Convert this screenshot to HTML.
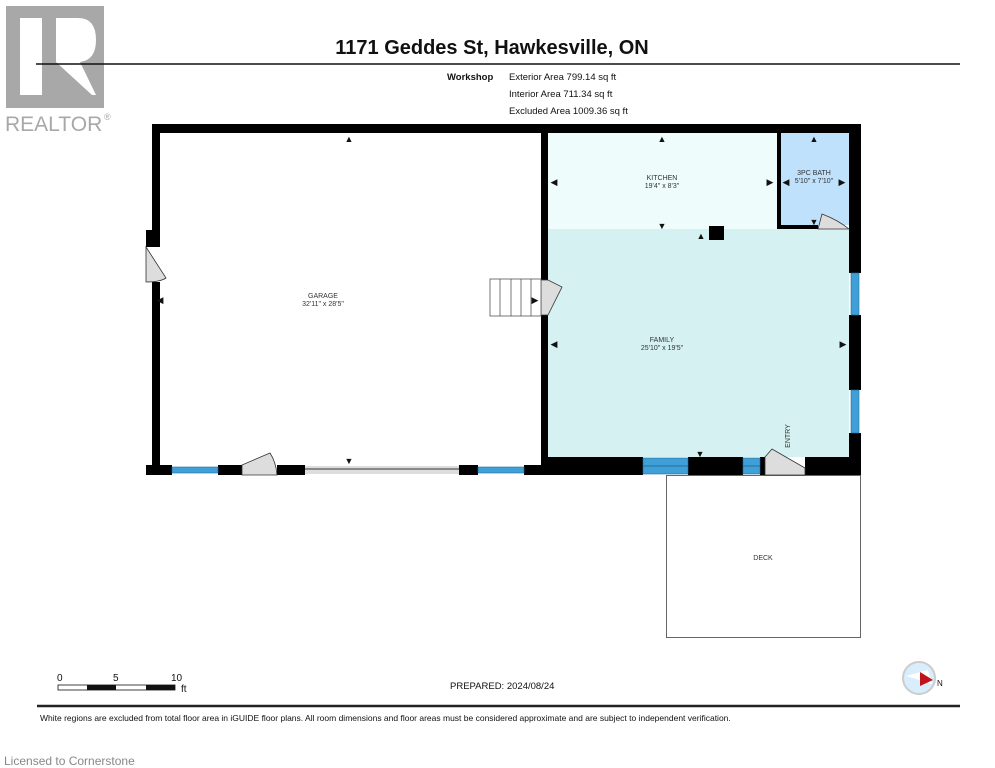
<!DOCTYPE html>
<html><head><meta charset="utf-8"><style>
body{margin:0;background:#fff;width:995px;height:768px;overflow:hidden}
svg{display:block}
text{font-family:"Liberation Sans",sans-serif}
</style></head><body>
<svg width="995" height="768" viewBox="0 0 995 768">
<rect width="995" height="768" fill="#fff"/>
<!-- realtor logo -->
<rect x="6" y="6" width="98" height="102" fill="#a8a8a8"/>
<rect x="20" y="18" width="22" height="77" fill="#fff"/>
<path d="M56 18 H78 Q96 18 96 40 Q96 60 80 62 L96 95 H56 Z" fill="#fff"/>
<path d="M56 62 L92 95 H56 Z" fill="#a8a8a8"/>
<text x="5" y="131" font-size="21" fill="#a8a8a8">REALTOR</text>
<text x="104" y="120" font-size="9" fill="#a8a8a8">®</text>
<!-- header -->
<line x1="36" y1="64" x2="960" y2="64" stroke="#111" stroke-width="1.5"/>
<text x="492" y="54" font-size="20" font-weight="bold" text-anchor="middle" fill="#111">1171 Geddes St, Hawkesville, ON</text>
<text x="447" y="80" font-size="9.5" font-weight="bold" fill="#111">Workshop</text>
<text x="509" y="80" font-size="9.5" fill="#111">Exterior Area 799.14 sq ft</text>
<text x="509" y="97" font-size="9.5" fill="#111">Interior Area 711.34 sq ft</text>
<text x="509" y="114" font-size="9.5" fill="#111">Excluded Area 1009.36 sq ft</text>
<!-- fills -->
<rect x="548" y="133" width="229" height="96" fill="#eefcfc"/>
<rect x="548" y="229" width="301" height="228" fill="#d6f1f1"/>
<rect x="781" y="133" width="68" height="92" fill="#bfe1fb"/>
<!-- deck -->
<rect x="666.5" y="475.5" width="194" height="162" fill="none" stroke="#666" stroke-width="1"/>
<text x="763" y="560" font-size="7" text-anchor="middle" fill="#333">DECK</text>
<!-- walls -->
<g fill="#000">
<rect x="152" y="124" width="709" height="9"/>
<rect x="152" y="124" width="8" height="106"/>
<rect x="146" y="230" width="14" height="17"/>
<rect x="152" y="282" width="8" height="193"/>
<rect x="146" y="465" width="26" height="10"/>
<rect x="541" y="124" width="7" height="156"/>
<rect x="541" y="315" width="7" height="160"/>
<rect x="849" y="124" width="12" height="149"/>
<rect x="849" y="315" width="12" height="75"/>
<rect x="849" y="433" width="12" height="42"/>
<rect x="777" y="133" width="4" height="96"/>
<rect x="777" y="225" width="41" height="4"/>
<rect x="218" y="465" width="24" height="10"/>
<rect x="277" y="465" width="28" height="10"/>
<rect x="459" y="465" width="19" height="10"/>
<rect x="524" y="465" width="24" height="10"/>
<rect x="548" y="457" width="95" height="18"/>
<rect x="688" y="457" width="55" height="18"/>
<rect x="760" y="457" width="5" height="18"/>
<rect x="805" y="457" width="56" height="18"/>
<rect x="709" y="226" width="15" height="14"/>
</g>
<!-- windows -->
<g fill="#3f9fd6" stroke="#1f6f9f" stroke-width="0.6">
<rect x="172" y="467" width="46" height="6"/>
<rect x="478" y="467" width="46" height="6"/>
<rect x="643" y="458" width="45" height="16"/>
<rect x="743" y="458" width="17" height="16"/>
<rect x="851" y="273" width="8" height="42"/>
<rect x="851" y="390" width="8" height="43"/>
</g>
<line x1="643" y1="466" x2="688" y2="466" stroke="#1f6f9f"/>
<line x1="743" y1="466" x2="760" y2="466" stroke="#1f6f9f"/>
<!-- garage door -->
<rect x="305" y="466" width="154" height="8" fill="#ddd"/>
<line x1="305" y1="469" x2="459" y2="469" stroke="#333"/>
<!-- doors -->
<g fill="#ddd" stroke="#333" stroke-width="0.8">
<path d="M242 475 V465 L270 453 Q276 462 277 475 Z"/>
<path d="M146 247 L166 278 Q160 282 146 282 Z"/>
<path d="M541 280 H548 L562 287 L548 315 H541 Z"/>
<path d="M765 475 V457 L772 449 L805 468 V475 Z"/>
<path d="M818 229 L822 214 Q838 220 849 229 Z"/>
</g>
<!-- stairs -->
<g fill="#fff" stroke="#555" stroke-width="0.8">
<rect x="490" y="279" width="51" height="37"/>
<line x1="500" y1="279" x2="500" y2="316"/><line x1="511" y1="279" x2="511" y2="316"/><line x1="521" y1="279" x2="521" y2="316"/><line x1="531" y1="279" x2="531" y2="316"/>
</g>
<!-- labels -->
<g font-size="7" text-anchor="middle" fill="#333">
<text x="323" y="298">GARAGE</text><text x="323" y="306">32'11" x 28'5"</text>
<text x="662" y="180">KITCHEN</text><text x="662" y="188">19'4" x 8'3"</text>
<text x="814" y="175">3PC BATH</text><text x="814" y="183">5'10" x 7'10"</text>
<text x="662" y="342">FAMILY</text><text x="662" y="350">25'10" x 19'5"</text>
<text x="790" y="436" transform="rotate(-90 790 436)">ENTRY</text>
</g>
<!-- arrows -->
<g fill="#111" font-size="9" text-anchor="middle">
<text x="349" y="142">▲</text><text x="349" y="464">▼</text>
<text x="160" y="303">◀</text><text x="535" y="303">▶</text>
<text x="662" y="142">▲</text><text x="662" y="229">▼</text>
<text x="701" y="239">▲</text>
<text x="554" y="185">◀</text><text x="770" y="185">▶</text>
<text x="814" y="142">▲</text><text x="814" y="225">▼</text>
<text x="786" y="185">◀</text><text x="842" y="185">▶</text>
<text x="554" y="347">◀</text><text x="843" y="347">▶</text>
<text x="700" y="457">▼</text>
</g>
<!-- scale -->
<g font-size="10" fill="#111">
<text x="57" y="681">0</text><text x="113" y="681">5</text><text x="171" y="681">10</text><text x="181" y="692">ft</text>
</g>
<rect x="58" y="685" width="117" height="5" fill="#fff" stroke="#111" stroke-width="0.8"/>
<rect x="87" y="685" width="29" height="5" fill="#111"/>
<rect x="146" y="685" width="29" height="5" fill="#111"/>
<text x="450" y="689" font-size="9.5" fill="#111">PREPARED: 2024/08/24</text>
<circle cx="919" cy="678" r="16" fill="#d9eefc" stroke="#ccc" stroke-width="2"/>
<path d="M906 676 L928 670 L932 684 Z" fill="#fff"/>
<path d="M920 672 L933 680 L920 686 Z" fill="#c0141c"/>
<text x="937" y="686" font-size="8" fill="#111">N</text>
<line x1="37" y1="706" x2="960" y2="706" stroke="#222" stroke-width="2.5"/>
<text x="40" y="721" font-size="8.5" fill="#111">White regions are excluded from total floor area in iGUIDE floor plans. All room dimensions and floor areas must be considered approximate and are subject to independent verification.</text>
<text x="4" y="765" font-size="12" fill="#888">Licensed to Cornerstone</text>
</svg>
</body></html>
